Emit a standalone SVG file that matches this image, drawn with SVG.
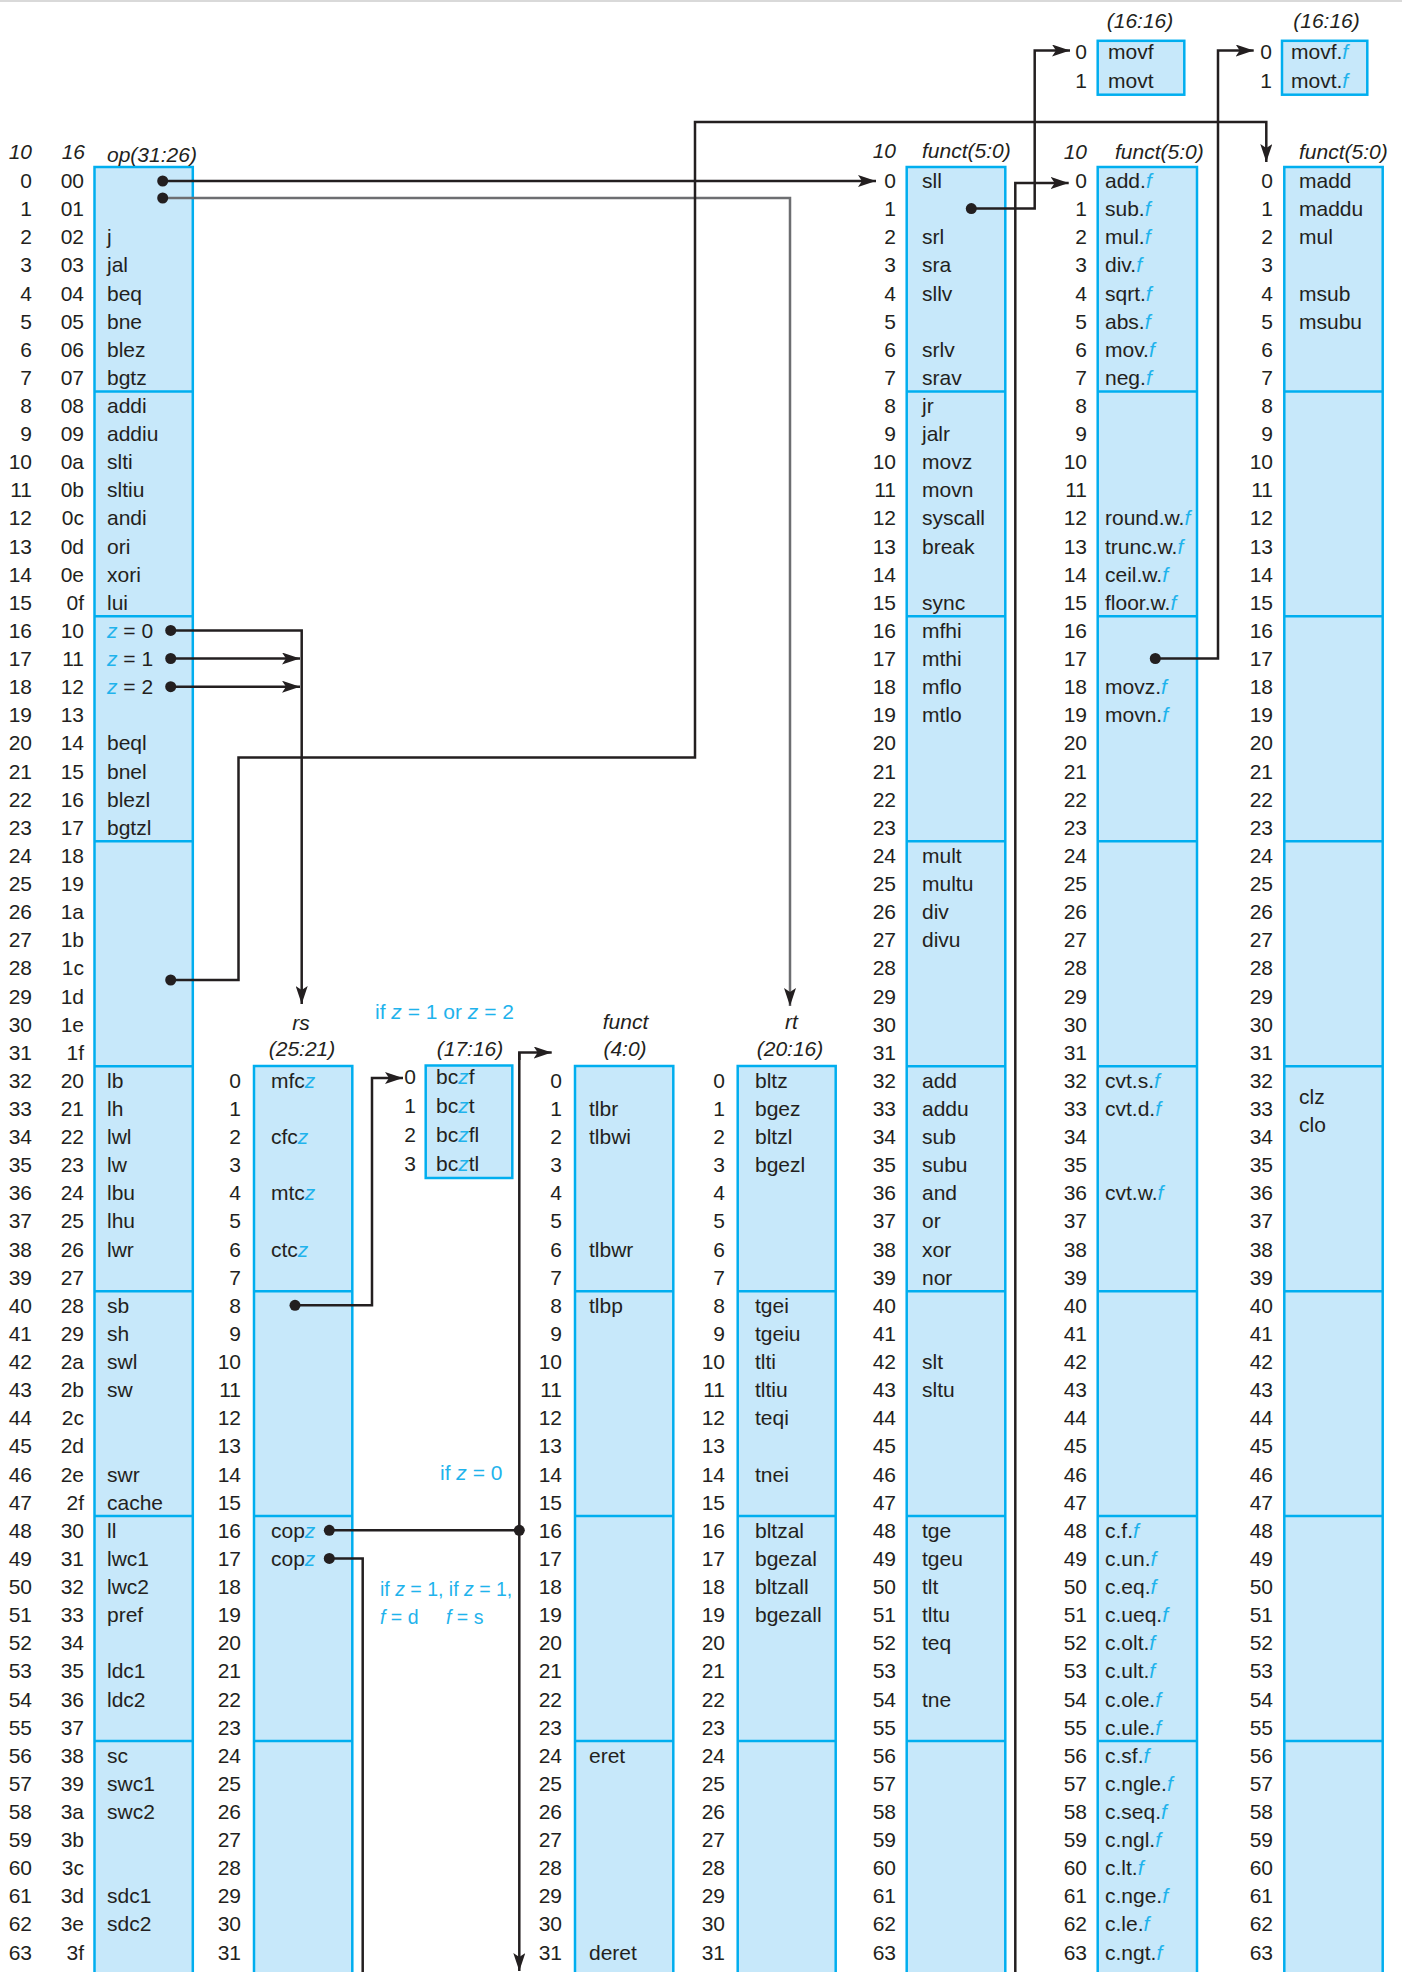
<svg xmlns="http://www.w3.org/2000/svg" width="1402" height="1972" viewBox="0 0 1402 1972">
<style>
text{font-family:"Liberation Sans",Arial,sans-serif;font-size:21px;fill:#231f20}
.n{text-anchor:end}
.h{font-style:italic}
.c{text-anchor:middle}
.b{fill:#1fb3ec}
.bi{fill:#1fb3ec;font-style:italic}
.sm{font-size:19.5px}
.box{fill:#c7e8fa;stroke:#00aeef;stroke-width:2.5}
.dv{stroke:#00aeef;stroke-width:2.5}
.ln{fill:none;stroke:#231f20;stroke-width:2.5}
.gl{fill:none;stroke:#6d6e71;stroke-width:2.5}
.dot{fill:#231f20}
</style>
<defs>
<marker id="ah" viewBox="0 0 18 12" refX="18" refY="6" markerWidth="18" markerHeight="12" markerUnits="userSpaceOnUse" orient="auto"><path d="M0,0 L18,6 L0,12 L4,6 Z" fill="#231f20"/></marker>
</defs>
<rect x="0" y="0" width="1402" height="2" fill="#d9d9d9"/>

<g id="op">
<rect class="box" x="94.5" y="167" width="98.3" height="1830"/>
<path class="dv" d="M94.5,391.4H192.8M94.5,616.3H192.8M94.5,841.3H192.8M94.5,1066.2H192.8M94.5,1291.2H192.8M94.5,1516.1H192.8M94.5,1741.1H192.8"/>
<text class="n h" x="32" y="159">10</text>
<text class="n h" x="85" y="159">16</text>
<text class="h" x="107" y="162">op(31:26)</text>
<text class="n"><tspan x="32" y="188">0</tspan><tspan x="32" y="216.1">1</tspan><tspan x="32" y="244.2">2</tspan><tspan x="32" y="272.4">3</tspan><tspan x="32" y="300.5">4</tspan><tspan x="32" y="328.6">5</tspan><tspan x="32" y="356.7">6</tspan><tspan x="32" y="384.8">7</tspan><tspan x="32" y="413">8</tspan><tspan x="32" y="441.1">9</tspan><tspan x="32" y="469.2">10</tspan><tspan x="32" y="497.3">11</tspan><tspan x="32" y="525.4">12</tspan><tspan x="32" y="553.6">13</tspan><tspan x="32" y="581.7">14</tspan><tspan x="32" y="609.8">15</tspan><tspan x="32" y="637.9">16</tspan><tspan x="32" y="666">17</tspan><tspan x="32" y="694.2">18</tspan><tspan x="32" y="722.3">19</tspan><tspan x="32" y="750.4">20</tspan><tspan x="32" y="778.5">21</tspan><tspan x="32" y="806.6">22</tspan><tspan x="32" y="834.8">23</tspan><tspan x="32" y="862.9">24</tspan><tspan x="32" y="891">25</tspan><tspan x="32" y="919.1">26</tspan><tspan x="32" y="947.2">27</tspan><tspan x="32" y="975.4">28</tspan><tspan x="32" y="1003.5">29</tspan><tspan x="32" y="1031.6">30</tspan><tspan x="32" y="1059.7">31</tspan><tspan x="32" y="1087.8">32</tspan><tspan x="32" y="1116">33</tspan><tspan x="32" y="1144.1">34</tspan><tspan x="32" y="1172.2">35</tspan><tspan x="32" y="1200.3">36</tspan><tspan x="32" y="1228.4">37</tspan><tspan x="32" y="1256.6">38</tspan><tspan x="32" y="1284.7">39</tspan><tspan x="32" y="1312.8">40</tspan><tspan x="32" y="1340.9">41</tspan><tspan x="32" y="1369">42</tspan><tspan x="32" y="1397.2">43</tspan><tspan x="32" y="1425.3">44</tspan><tspan x="32" y="1453.4">45</tspan><tspan x="32" y="1481.5">46</tspan><tspan x="32" y="1509.6">47</tspan><tspan x="32" y="1537.8">48</tspan><tspan x="32" y="1565.9">49</tspan><tspan x="32" y="1594">50</tspan><tspan x="32" y="1622.1">51</tspan><tspan x="32" y="1650.2">52</tspan><tspan x="32" y="1678.4">53</tspan><tspan x="32" y="1706.5">54</tspan><tspan x="32" y="1734.6">55</tspan><tspan x="32" y="1762.7">56</tspan><tspan x="32" y="1790.8">57</tspan><tspan x="32" y="1819">58</tspan><tspan x="32" y="1847.1">59</tspan><tspan x="32" y="1875.2">60</tspan><tspan x="32" y="1903.3">61</tspan><tspan x="32" y="1931.4">62</tspan><tspan x="32" y="1959.6">63</tspan></text>
<text class="n"><tspan x="84" y="188">00</tspan><tspan x="84" y="216.1">01</tspan><tspan x="84" y="244.2">02</tspan><tspan x="84" y="272.4">03</tspan><tspan x="84" y="300.5">04</tspan><tspan x="84" y="328.6">05</tspan><tspan x="84" y="356.7">06</tspan><tspan x="84" y="384.8">07</tspan><tspan x="84" y="413">08</tspan><tspan x="84" y="441.1">09</tspan><tspan x="84" y="469.2">0a</tspan><tspan x="84" y="497.3">0b</tspan><tspan x="84" y="525.4">0c</tspan><tspan x="84" y="553.6">0d</tspan><tspan x="84" y="581.7">0e</tspan><tspan x="84" y="609.8">0f</tspan><tspan x="84" y="637.9">10</tspan><tspan x="84" y="666">11</tspan><tspan x="84" y="694.2">12</tspan><tspan x="84" y="722.3">13</tspan><tspan x="84" y="750.4">14</tspan><tspan x="84" y="778.5">15</tspan><tspan x="84" y="806.6">16</tspan><tspan x="84" y="834.8">17</tspan><tspan x="84" y="862.9">18</tspan><tspan x="84" y="891">19</tspan><tspan x="84" y="919.1">1a</tspan><tspan x="84" y="947.2">1b</tspan><tspan x="84" y="975.4">1c</tspan><tspan x="84" y="1003.5">1d</tspan><tspan x="84" y="1031.6">1e</tspan><tspan x="84" y="1059.7">1f</tspan><tspan x="84" y="1087.8">20</tspan><tspan x="84" y="1116">21</tspan><tspan x="84" y="1144.1">22</tspan><tspan x="84" y="1172.2">23</tspan><tspan x="84" y="1200.3">24</tspan><tspan x="84" y="1228.4">25</tspan><tspan x="84" y="1256.6">26</tspan><tspan x="84" y="1284.7">27</tspan><tspan x="84" y="1312.8">28</tspan><tspan x="84" y="1340.9">29</tspan><tspan x="84" y="1369">2a</tspan><tspan x="84" y="1397.2">2b</tspan><tspan x="84" y="1425.3">2c</tspan><tspan x="84" y="1453.4">2d</tspan><tspan x="84" y="1481.5">2e</tspan><tspan x="84" y="1509.6">2f</tspan><tspan x="84" y="1537.8">30</tspan><tspan x="84" y="1565.9">31</tspan><tspan x="84" y="1594">32</tspan><tspan x="84" y="1622.1">33</tspan><tspan x="84" y="1650.2">34</tspan><tspan x="84" y="1678.4">35</tspan><tspan x="84" y="1706.5">36</tspan><tspan x="84" y="1734.6">37</tspan><tspan x="84" y="1762.7">38</tspan><tspan x="84" y="1790.8">39</tspan><tspan x="84" y="1819">3a</tspan><tspan x="84" y="1847.1">3b</tspan><tspan x="84" y="1875.2">3c</tspan><tspan x="84" y="1903.3">3d</tspan><tspan x="84" y="1931.4">3e</tspan><tspan x="84" y="1959.6">3f</tspan></text>
<text><tspan x="107" y="244.2">j</tspan><tspan x="107" y="272.4">jal</tspan><tspan x="107" y="300.5">beq</tspan><tspan x="107" y="328.6">bne</tspan><tspan x="107" y="356.7">blez</tspan><tspan x="107" y="384.8">bgtz</tspan><tspan x="107" y="413">addi</tspan><tspan x="107" y="441.1">addiu</tspan><tspan x="107" y="469.2">slti</tspan><tspan x="107" y="497.3">sltiu</tspan><tspan x="107" y="525.4">andi</tspan><tspan x="107" y="553.6">ori</tspan><tspan x="107" y="581.7">xori</tspan><tspan x="107" y="609.8">lui</tspan><tspan x="107" y="750.4">beql</tspan><tspan x="107" y="778.5">bnel</tspan><tspan x="107" y="806.6">blezl</tspan><tspan x="107" y="834.8">bgtzl</tspan><tspan x="107" y="1087.8">lb</tspan><tspan x="107" y="1116">lh</tspan><tspan x="107" y="1144.1">lwl</tspan><tspan x="107" y="1172.2">lw</tspan><tspan x="107" y="1200.3">lbu</tspan><tspan x="107" y="1228.4">lhu</tspan><tspan x="107" y="1256.6">lwr</tspan><tspan x="107" y="1312.8">sb</tspan><tspan x="107" y="1340.9">sh</tspan><tspan x="107" y="1369">swl</tspan><tspan x="107" y="1397.2">sw</tspan><tspan x="107" y="1481.5">swr</tspan><tspan x="107" y="1509.6">cache</tspan><tspan x="107" y="1537.8">ll</tspan><tspan x="107" y="1565.9">lwc1</tspan><tspan x="107" y="1594">lwc2</tspan><tspan x="107" y="1622.1">pref</tspan><tspan x="107" y="1678.4">ldc1</tspan><tspan x="107" y="1706.5">ldc2</tspan><tspan x="107" y="1762.7">sc</tspan><tspan x="107" y="1790.8">swc1</tspan><tspan x="107" y="1819">swc2</tspan><tspan x="107" y="1903.3">sdc1</tspan><tspan x="107" y="1931.4">sdc2</tspan></text>
<text x="107" y="637.9"><tspan class="bi">z</tspan> = 0</text>
<text x="107" y="666"><tspan class="bi">z</tspan> = 1</text>
<text x="107" y="694.2"><tspan class="bi">z</tspan> = 2</text>
</g>

<g id="rs">
<rect class="box" x="254" y="1066" width="98.3" height="930"/>
<path class="dv" d="M254,1291.2H352.3M254,1516.1H352.3M254,1741.1H352.3"/>
<text class="h c" x="301" y="1030">rs</text>
<text class="h c" x="302" y="1056">(25:21)</text>
<text class="n"><tspan x="241" y="1087.8">0</tspan><tspan x="241" y="1116">1</tspan><tspan x="241" y="1144.1">2</tspan><tspan x="241" y="1172.2">3</tspan><tspan x="241" y="1200.3">4</tspan><tspan x="241" y="1228.4">5</tspan><tspan x="241" y="1256.6">6</tspan><tspan x="241" y="1284.7">7</tspan><tspan x="241" y="1312.8">8</tspan><tspan x="241" y="1340.9">9</tspan><tspan x="241" y="1369">10</tspan><tspan x="241" y="1397.2">11</tspan><tspan x="241" y="1425.3">12</tspan><tspan x="241" y="1453.4">13</tspan><tspan x="241" y="1481.5">14</tspan><tspan x="241" y="1509.6">15</tspan><tspan x="241" y="1537.8">16</tspan><tspan x="241" y="1565.9">17</tspan><tspan x="241" y="1594">18</tspan><tspan x="241" y="1622.1">19</tspan><tspan x="241" y="1650.2">20</tspan><tspan x="241" y="1678.4">21</tspan><tspan x="241" y="1706.5">22</tspan><tspan x="241" y="1734.6">23</tspan><tspan x="241" y="1762.7">24</tspan><tspan x="241" y="1790.8">25</tspan><tspan x="241" y="1819">26</tspan><tspan x="241" y="1847.1">27</tspan><tspan x="241" y="1875.2">28</tspan><tspan x="241" y="1903.3">29</tspan><tspan x="241" y="1931.4">30</tspan><tspan x="241" y="1959.6">31</tspan></text>
<text x="271" y="1087.8">mfc<tspan class="bi">z</tspan></text>
<text x="271" y="1144.1">cfc<tspan class="bi">z</tspan></text>
<text x="271" y="1200.3">mtc<tspan class="bi">z</tspan></text>
<text x="271" y="1256.6">ctc<tspan class="bi">z</tspan></text>
<text x="271" y="1537.8">cop<tspan class="bi">z</tspan></text>
<text x="271" y="1565.9">cop<tspan class="bi">z</tspan></text>
</g>

<g id="bc">
<rect class="box" x="425.7" y="1065.5" width="86.6" height="112.5"/>
<text class="h c" x="470" y="1056">(17:16)</text>
<text class="n"><tspan x="416" y="1084">0</tspan><tspan x="416" y="1113">1</tspan><tspan x="416" y="1142">2</tspan><tspan x="416" y="1171">3</tspan></text>
<text x="436" y="1084">bc<tspan class="bi">z</tspan>f</text>
<text x="436" y="1113">bc<tspan class="bi">z</tspan>t</text>
<text x="436" y="1142">bc<tspan class="bi">z</tspan>fl</text>
<text x="436" y="1171">bc<tspan class="bi">z</tspan>tl</text>
</g>

<g id="tlb">
<rect class="box" x="575" y="1066" width="98.3" height="930"/>
<path class="dv" d="M575,1291.2H673.3M575,1516.1H673.3M575,1741.1H673.3"/>
<text class="h c" x="625.5" y="1029">funct</text>
<text class="h c" x="625" y="1056">(4:0)</text>
<text class="n"><tspan x="562" y="1087.8">0</tspan><tspan x="562" y="1116">1</tspan><tspan x="562" y="1144.1">2</tspan><tspan x="562" y="1172.2">3</tspan><tspan x="562" y="1200.3">4</tspan><tspan x="562" y="1228.4">5</tspan><tspan x="562" y="1256.6">6</tspan><tspan x="562" y="1284.7">7</tspan><tspan x="562" y="1312.8">8</tspan><tspan x="562" y="1340.9">9</tspan><tspan x="562" y="1369">10</tspan><tspan x="562" y="1397.2">11</tspan><tspan x="562" y="1425.3">12</tspan><tspan x="562" y="1453.4">13</tspan><tspan x="562" y="1481.5">14</tspan><tspan x="562" y="1509.6">15</tspan><tspan x="562" y="1537.8">16</tspan><tspan x="562" y="1565.9">17</tspan><tspan x="562" y="1594">18</tspan><tspan x="562" y="1622.1">19</tspan><tspan x="562" y="1650.2">20</tspan><tspan x="562" y="1678.4">21</tspan><tspan x="562" y="1706.5">22</tspan><tspan x="562" y="1734.6">23</tspan><tspan x="562" y="1762.7">24</tspan><tspan x="562" y="1790.8">25</tspan><tspan x="562" y="1819">26</tspan><tspan x="562" y="1847.1">27</tspan><tspan x="562" y="1875.2">28</tspan><tspan x="562" y="1903.3">29</tspan><tspan x="562" y="1931.4">30</tspan><tspan x="562" y="1959.6">31</tspan></text>
<text><tspan x="589" y="1116">tlbr</tspan><tspan x="589" y="1144.1">tlbwi</tspan><tspan x="589" y="1256.6">tlbwr</tspan><tspan x="589" y="1312.8">tlbp</tspan><tspan x="589" y="1762.7">eret</tspan><tspan x="589" y="1959.6">deret</tspan></text>
</g>

<g id="rt">
<rect class="box" x="737.7" y="1066" width="98" height="930"/>
<path class="dv" d="M737.7,1291.2H835.7M737.7,1516.1H835.7M737.7,1741.1H835.7"/>
<text class="h c" x="791.5" y="1029">rt</text>
<text class="h c" x="790" y="1056">(20:16)</text>
<text class="n"><tspan x="725" y="1087.8">0</tspan><tspan x="725" y="1116">1</tspan><tspan x="725" y="1144.1">2</tspan><tspan x="725" y="1172.2">3</tspan><tspan x="725" y="1200.3">4</tspan><tspan x="725" y="1228.4">5</tspan><tspan x="725" y="1256.6">6</tspan><tspan x="725" y="1284.7">7</tspan><tspan x="725" y="1312.8">8</tspan><tspan x="725" y="1340.9">9</tspan><tspan x="725" y="1369">10</tspan><tspan x="725" y="1397.2">11</tspan><tspan x="725" y="1425.3">12</tspan><tspan x="725" y="1453.4">13</tspan><tspan x="725" y="1481.5">14</tspan><tspan x="725" y="1509.6">15</tspan><tspan x="725" y="1537.8">16</tspan><tspan x="725" y="1565.9">17</tspan><tspan x="725" y="1594">18</tspan><tspan x="725" y="1622.1">19</tspan><tspan x="725" y="1650.2">20</tspan><tspan x="725" y="1678.4">21</tspan><tspan x="725" y="1706.5">22</tspan><tspan x="725" y="1734.6">23</tspan><tspan x="725" y="1762.7">24</tspan><tspan x="725" y="1790.8">25</tspan><tspan x="725" y="1819">26</tspan><tspan x="725" y="1847.1">27</tspan><tspan x="725" y="1875.2">28</tspan><tspan x="725" y="1903.3">29</tspan><tspan x="725" y="1931.4">30</tspan><tspan x="725" y="1959.6">31</tspan></text>
<text><tspan x="755" y="1087.8">bltz</tspan><tspan x="755" y="1116">bgez</tspan><tspan x="755" y="1144.1">bltzl</tspan><tspan x="755" y="1172.2">bgezl</tspan><tspan x="755" y="1312.8">tgei</tspan><tspan x="755" y="1340.9">tgeiu</tspan><tspan x="755" y="1369">tlti</tspan><tspan x="755" y="1397.2">tltiu</tspan><tspan x="755" y="1425.3">teqi</tspan><tspan x="755" y="1481.5">tnei</tspan><tspan x="755" y="1537.8">bltzal</tspan><tspan x="755" y="1565.9">bgezal</tspan><tspan x="755" y="1594">bltzall</tspan><tspan x="755" y="1622.1">bgezall</tspan></text>
</g>

<g id="funct">
<rect class="box" x="906.7" y="167" width="98.6" height="1830"/>
<path class="dv" d="M906.7,391.4H1005.3M906.7,616.3H1005.3M906.7,841.3H1005.3M906.7,1066.2H1005.3M906.7,1291.2H1005.3M906.7,1516.1H1005.3M906.7,1741.1H1005.3"/>
<text class="n h" x="896" y="158">10</text>
<text class="h" x="922" y="158">funct(5:0)</text>
<text class="n"><tspan x="896" y="188">0</tspan><tspan x="896" y="216.1">1</tspan><tspan x="896" y="244.2">2</tspan><tspan x="896" y="272.4">3</tspan><tspan x="896" y="300.5">4</tspan><tspan x="896" y="328.6">5</tspan><tspan x="896" y="356.7">6</tspan><tspan x="896" y="384.8">7</tspan><tspan x="896" y="413">8</tspan><tspan x="896" y="441.1">9</tspan><tspan x="896" y="469.2">10</tspan><tspan x="896" y="497.3">11</tspan><tspan x="896" y="525.4">12</tspan><tspan x="896" y="553.6">13</tspan><tspan x="896" y="581.7">14</tspan><tspan x="896" y="609.8">15</tspan><tspan x="896" y="637.9">16</tspan><tspan x="896" y="666">17</tspan><tspan x="896" y="694.2">18</tspan><tspan x="896" y="722.3">19</tspan><tspan x="896" y="750.4">20</tspan><tspan x="896" y="778.5">21</tspan><tspan x="896" y="806.6">22</tspan><tspan x="896" y="834.8">23</tspan><tspan x="896" y="862.9">24</tspan><tspan x="896" y="891">25</tspan><tspan x="896" y="919.1">26</tspan><tspan x="896" y="947.2">27</tspan><tspan x="896" y="975.4">28</tspan><tspan x="896" y="1003.5">29</tspan><tspan x="896" y="1031.6">30</tspan><tspan x="896" y="1059.7">31</tspan><tspan x="896" y="1087.8">32</tspan><tspan x="896" y="1116">33</tspan><tspan x="896" y="1144.1">34</tspan><tspan x="896" y="1172.2">35</tspan><tspan x="896" y="1200.3">36</tspan><tspan x="896" y="1228.4">37</tspan><tspan x="896" y="1256.6">38</tspan><tspan x="896" y="1284.7">39</tspan><tspan x="896" y="1312.8">40</tspan><tspan x="896" y="1340.9">41</tspan><tspan x="896" y="1369">42</tspan><tspan x="896" y="1397.2">43</tspan><tspan x="896" y="1425.3">44</tspan><tspan x="896" y="1453.4">45</tspan><tspan x="896" y="1481.5">46</tspan><tspan x="896" y="1509.6">47</tspan><tspan x="896" y="1537.8">48</tspan><tspan x="896" y="1565.9">49</tspan><tspan x="896" y="1594">50</tspan><tspan x="896" y="1622.1">51</tspan><tspan x="896" y="1650.2">52</tspan><tspan x="896" y="1678.4">53</tspan><tspan x="896" y="1706.5">54</tspan><tspan x="896" y="1734.6">55</tspan><tspan x="896" y="1762.7">56</tspan><tspan x="896" y="1790.8">57</tspan><tspan x="896" y="1819">58</tspan><tspan x="896" y="1847.1">59</tspan><tspan x="896" y="1875.2">60</tspan><tspan x="896" y="1903.3">61</tspan><tspan x="896" y="1931.4">62</tspan><tspan x="896" y="1959.6">63</tspan></text>
<text><tspan x="922" y="188">sll</tspan><tspan x="922" y="244.2">srl</tspan><tspan x="922" y="272.4">sra</tspan><tspan x="922" y="300.5">sllv</tspan><tspan x="922" y="356.7">srlv</tspan><tspan x="922" y="384.8">srav</tspan><tspan x="922" y="413">jr</tspan><tspan x="922" y="441.1">jalr</tspan><tspan x="922" y="469.2">movz</tspan><tspan x="922" y="497.3">movn</tspan><tspan x="922" y="525.4">syscall</tspan><tspan x="922" y="553.6">break</tspan><tspan x="922" y="609.8">sync</tspan><tspan x="922" y="637.9">mfhi</tspan><tspan x="922" y="666">mthi</tspan><tspan x="922" y="694.2">mflo</tspan><tspan x="922" y="722.3">mtlo</tspan><tspan x="922" y="862.9">mult</tspan><tspan x="922" y="891">multu</tspan><tspan x="922" y="919.1">div</tspan><tspan x="922" y="947.2">divu</tspan><tspan x="922" y="1087.8">add</tspan><tspan x="922" y="1116">addu</tspan><tspan x="922" y="1144.1">sub</tspan><tspan x="922" y="1172.2">subu</tspan><tspan x="922" y="1200.3">and</tspan><tspan x="922" y="1228.4">or</tspan><tspan x="922" y="1256.6">xor</tspan><tspan x="922" y="1284.7">nor</tspan><tspan x="922" y="1369">slt</tspan><tspan x="922" y="1397.2">sltu</tspan><tspan x="922" y="1537.8">tge</tspan><tspan x="922" y="1565.9">tgeu</tspan><tspan x="922" y="1594">tlt</tspan><tspan x="922" y="1622.1">tltu</tspan><tspan x="922" y="1650.2">teq</tspan><tspan x="922" y="1706.5">tne</tspan></text>
</g>

<g id="fpfunct">
<rect class="box" x="1097.7" y="167" width="99.3" height="1830"/>
<path class="dv" d="M1097.7,391.4H1197M1097.7,616.3H1197M1097.7,841.3H1197M1097.7,1066.2H1197M1097.7,1291.2H1197M1097.7,1516.1H1197M1097.7,1741.1H1197"/>
<text class="n h" x="1087" y="159">10</text>
<text class="h" x="1115" y="159">funct(5:0)</text>
<text class="n"><tspan x="1087" y="188">0</tspan><tspan x="1087" y="216.1">1</tspan><tspan x="1087" y="244.2">2</tspan><tspan x="1087" y="272.4">3</tspan><tspan x="1087" y="300.5">4</tspan><tspan x="1087" y="328.6">5</tspan><tspan x="1087" y="356.7">6</tspan><tspan x="1087" y="384.8">7</tspan><tspan x="1087" y="413">8</tspan><tspan x="1087" y="441.1">9</tspan><tspan x="1087" y="469.2">10</tspan><tspan x="1087" y="497.3">11</tspan><tspan x="1087" y="525.4">12</tspan><tspan x="1087" y="553.6">13</tspan><tspan x="1087" y="581.7">14</tspan><tspan x="1087" y="609.8">15</tspan><tspan x="1087" y="637.9">16</tspan><tspan x="1087" y="666">17</tspan><tspan x="1087" y="694.2">18</tspan><tspan x="1087" y="722.3">19</tspan><tspan x="1087" y="750.4">20</tspan><tspan x="1087" y="778.5">21</tspan><tspan x="1087" y="806.6">22</tspan><tspan x="1087" y="834.8">23</tspan><tspan x="1087" y="862.9">24</tspan><tspan x="1087" y="891">25</tspan><tspan x="1087" y="919.1">26</tspan><tspan x="1087" y="947.2">27</tspan><tspan x="1087" y="975.4">28</tspan><tspan x="1087" y="1003.5">29</tspan><tspan x="1087" y="1031.6">30</tspan><tspan x="1087" y="1059.7">31</tspan><tspan x="1087" y="1087.8">32</tspan><tspan x="1087" y="1116">33</tspan><tspan x="1087" y="1144.1">34</tspan><tspan x="1087" y="1172.2">35</tspan><tspan x="1087" y="1200.3">36</tspan><tspan x="1087" y="1228.4">37</tspan><tspan x="1087" y="1256.6">38</tspan><tspan x="1087" y="1284.7">39</tspan><tspan x="1087" y="1312.8">40</tspan><tspan x="1087" y="1340.9">41</tspan><tspan x="1087" y="1369">42</tspan><tspan x="1087" y="1397.2">43</tspan><tspan x="1087" y="1425.3">44</tspan><tspan x="1087" y="1453.4">45</tspan><tspan x="1087" y="1481.5">46</tspan><tspan x="1087" y="1509.6">47</tspan><tspan x="1087" y="1537.8">48</tspan><tspan x="1087" y="1565.9">49</tspan><tspan x="1087" y="1594">50</tspan><tspan x="1087" y="1622.1">51</tspan><tspan x="1087" y="1650.2">52</tspan><tspan x="1087" y="1678.4">53</tspan><tspan x="1087" y="1706.5">54</tspan><tspan x="1087" y="1734.6">55</tspan><tspan x="1087" y="1762.7">56</tspan><tspan x="1087" y="1790.8">57</tspan><tspan x="1087" y="1819">58</tspan><tspan x="1087" y="1847.1">59</tspan><tspan x="1087" y="1875.2">60</tspan><tspan x="1087" y="1903.3">61</tspan><tspan x="1087" y="1931.4">62</tspan><tspan x="1087" y="1959.6">63</tspan></text>
<text x="1105" y="188">add.<tspan class="bi">f</tspan></text>
<text x="1105" y="216.1">sub.<tspan class="bi">f</tspan></text>
<text x="1105" y="244.2">mul.<tspan class="bi">f</tspan></text>
<text x="1105" y="272.4">div.<tspan class="bi">f</tspan></text>
<text x="1105" y="300.5">sqrt.<tspan class="bi">f</tspan></text>
<text x="1105" y="328.6">abs.<tspan class="bi">f</tspan></text>
<text x="1105" y="356.7">mov.<tspan class="bi">f</tspan></text>
<text x="1105" y="384.8">neg.<tspan class="bi">f</tspan></text>
<text x="1105" y="525.4">round.w.<tspan class="bi">f</tspan></text>
<text x="1105" y="553.6">trunc.w.<tspan class="bi">f</tspan></text>
<text x="1105" y="581.7">ceil.w.<tspan class="bi">f</tspan></text>
<text x="1105" y="609.8">floor.w.<tspan class="bi">f</tspan></text>
<text x="1105" y="694.2">movz.<tspan class="bi">f</tspan></text>
<text x="1105" y="722.3">movn.<tspan class="bi">f</tspan></text>
<text x="1105" y="1087.8">cvt.s.<tspan class="bi">f</tspan></text>
<text x="1105" y="1116">cvt.d.<tspan class="bi">f</tspan></text>
<text x="1105" y="1200.3">cvt.w.<tspan class="bi">f</tspan></text>
<text x="1105" y="1537.8">c.f.<tspan class="bi">f</tspan></text>
<text x="1105" y="1565.9">c.un.<tspan class="bi">f</tspan></text>
<text x="1105" y="1594">c.eq.<tspan class="bi">f</tspan></text>
<text x="1105" y="1622.1">c.ueq.<tspan class="bi">f</tspan></text>
<text x="1105" y="1650.2">c.olt.<tspan class="bi">f</tspan></text>
<text x="1105" y="1678.4">c.ult.<tspan class="bi">f</tspan></text>
<text x="1105" y="1706.5">c.ole.<tspan class="bi">f</tspan></text>
<text x="1105" y="1734.6">c.ule.<tspan class="bi">f</tspan></text>
<text x="1105" y="1762.7">c.sf.<tspan class="bi">f</tspan></text>
<text x="1105" y="1790.8">c.ngle.<tspan class="bi">f</tspan></text>
<text x="1105" y="1819">c.seq.<tspan class="bi">f</tspan></text>
<text x="1105" y="1847.1">c.ngl.<tspan class="bi">f</tspan></text>
<text x="1105" y="1875.2">c.lt.<tspan class="bi">f</tspan></text>
<text x="1105" y="1903.3">c.nge.<tspan class="bi">f</tspan></text>
<text x="1105" y="1931.4">c.le.<tspan class="bi">f</tspan></text>
<text x="1105" y="1959.6">c.ngt.<tspan class="bi">f</tspan></text>
</g>

<g id="special2">
<rect class="box" x="1284.3" y="167" width="98.4" height="1830"/>
<path class="dv" d="M1284.3,391.4H1382.7M1284.3,616.3H1382.7M1284.3,841.3H1382.7M1284.3,1066.2H1382.7M1284.3,1291.2H1382.7M1284.3,1516.1H1382.7M1284.3,1741.1H1382.7"/>
<text class="h" x="1299" y="159">funct(5:0)</text>
<text class="n"><tspan x="1273" y="188">0</tspan><tspan x="1273" y="216.1">1</tspan><tspan x="1273" y="244.2">2</tspan><tspan x="1273" y="272.4">3</tspan><tspan x="1273" y="300.5">4</tspan><tspan x="1273" y="328.6">5</tspan><tspan x="1273" y="356.7">6</tspan><tspan x="1273" y="384.8">7</tspan><tspan x="1273" y="413">8</tspan><tspan x="1273" y="441.1">9</tspan><tspan x="1273" y="469.2">10</tspan><tspan x="1273" y="497.3">11</tspan><tspan x="1273" y="525.4">12</tspan><tspan x="1273" y="553.6">13</tspan><tspan x="1273" y="581.7">14</tspan><tspan x="1273" y="609.8">15</tspan><tspan x="1273" y="637.9">16</tspan><tspan x="1273" y="666">17</tspan><tspan x="1273" y="694.2">18</tspan><tspan x="1273" y="722.3">19</tspan><tspan x="1273" y="750.4">20</tspan><tspan x="1273" y="778.5">21</tspan><tspan x="1273" y="806.6">22</tspan><tspan x="1273" y="834.8">23</tspan><tspan x="1273" y="862.9">24</tspan><tspan x="1273" y="891">25</tspan><tspan x="1273" y="919.1">26</tspan><tspan x="1273" y="947.2">27</tspan><tspan x="1273" y="975.4">28</tspan><tspan x="1273" y="1003.5">29</tspan><tspan x="1273" y="1031.6">30</tspan><tspan x="1273" y="1059.7">31</tspan><tspan x="1273" y="1087.8">32</tspan><tspan x="1273" y="1116">33</tspan><tspan x="1273" y="1144.1">34</tspan><tspan x="1273" y="1172.2">35</tspan><tspan x="1273" y="1200.3">36</tspan><tspan x="1273" y="1228.4">37</tspan><tspan x="1273" y="1256.6">38</tspan><tspan x="1273" y="1284.7">39</tspan><tspan x="1273" y="1312.8">40</tspan><tspan x="1273" y="1340.9">41</tspan><tspan x="1273" y="1369">42</tspan><tspan x="1273" y="1397.2">43</tspan><tspan x="1273" y="1425.3">44</tspan><tspan x="1273" y="1453.4">45</tspan><tspan x="1273" y="1481.5">46</tspan><tspan x="1273" y="1509.6">47</tspan><tspan x="1273" y="1537.8">48</tspan><tspan x="1273" y="1565.9">49</tspan><tspan x="1273" y="1594">50</tspan><tspan x="1273" y="1622.1">51</tspan><tspan x="1273" y="1650.2">52</tspan><tspan x="1273" y="1678.4">53</tspan><tspan x="1273" y="1706.5">54</tspan><tspan x="1273" y="1734.6">55</tspan><tspan x="1273" y="1762.7">56</tspan><tspan x="1273" y="1790.8">57</tspan><tspan x="1273" y="1819">58</tspan><tspan x="1273" y="1847.1">59</tspan><tspan x="1273" y="1875.2">60</tspan><tspan x="1273" y="1903.3">61</tspan><tspan x="1273" y="1931.4">62</tspan><tspan x="1273" y="1959.6">63</tspan></text>
<text><tspan x="1299" y="188">madd</tspan><tspan x="1299" y="216.1">maddu</tspan><tspan x="1299" y="244.2">mul</tspan><tspan x="1299" y="300.5">msub</tspan><tspan x="1299" y="328.6">msubu</tspan><tspan x="1299" y="1104">clz</tspan><tspan x="1299" y="1131.5">clo</tspan></text>
</g>

<g id="movf">
<rect class="box" x="1097.7" y="40.8" width="86.6" height="53.9"/>
<text class="h c" x="1140" y="28">(16:16)</text>
<text class="n"><tspan x="1087" y="58.5">0</tspan><tspan x="1087" y="87.5">1</tspan></text>
<text><tspan x="1108" y="58.5">movf</tspan><tspan x="1108" y="87.5">movt</tspan></text>
</g>

<g id="movff">
<rect class="box" x="1282" y="40.8" width="85.3" height="53.9"/>
<text class="h c" x="1326.5" y="28">(16:16)</text>
<text class="n"><tspan x="1272" y="58.5">0</tspan><tspan x="1272" y="87.5">1</tspan></text>
<text x="1291" y="58.5">movf.<tspan class="bi">f</tspan></text>
<text x="1291" y="87.5">movt.<tspan class="bi">f</tspan></text>
</g>

<g id="labels">
<text class="b" x="375" y="1019">if <tspan class="bi">z</tspan> = 1 or <tspan class="bi">z</tspan> = 2</text>
<text class="b" x="440" y="1480">if <tspan class="bi">z</tspan> = 0</text>
<text class="b sm" x="380" y="1596">if <tspan class="bi">z</tspan> = 1, if <tspan class="bi">z</tspan> = 1,</text>
<text class="b sm" x="380" y="1624"><tspan class="bi">f</tspan> = d</text>
<text class="b sm" x="446" y="1624"><tspan class="bi">f</tspan> = s</text>
</g>

<g id="connectors">
<path class="ln" d="M162.7,181H876" marker-end="url(#ah)"/>
<path class="gl" d="M162.7,198H790V1006" marker-end="url(#ah)"/>
<path class="ln" d="M170.7,980H238.5V757.5H695V122H1266.3V162" marker-end="url(#ah)"/>
<path class="ln" d="M170.7,630.4H301.7V1004" marker-end="url(#ah)"/>
<path class="ln" d="M170.7,658.5H300" marker-end="url(#ah)"/>
<path class="ln" d="M170.7,686.7H300" marker-end="url(#ah)"/>
<path class="ln" d="M295,1305.3H372V1078H403" marker-end="url(#ah)"/>
<path class="ln" d="M329.3,1530.3H519.3"/>
<path class="ln" d="M519.3,1052.5V1971" marker-end="url(#ah)"/>
<path class="ln" d="M519.3,1060V1052.5H551.7" marker-end="url(#ah)"/>
<path class="ln" d="M329.3,1558.4H362.7V1975"/>
<path class="ln" d="M971.3,208.6H1034.7V50.5H1070" marker-end="url(#ah)"/>
<path class="ln" d="M1015.3,1975V183H1068.7" marker-end="url(#ah)"/>
<path class="ln" d="M1155.3,658.5H1218V50.5H1253.7" marker-end="url(#ah)"/>
<circle class="dot" cx="162.7" cy="181" r="5.5"/>
<circle class="dot" cx="162.7" cy="198" r="5.5"/>
<circle class="dot" cx="170.7" cy="630.4" r="5.5"/>
<circle class="dot" cx="170.7" cy="658.5" r="5.5"/>
<circle class="dot" cx="170.7" cy="686.7" r="5.5"/>
<circle class="dot" cx="170.7" cy="980" r="5.5"/>
<circle class="dot" cx="295" cy="1305.3" r="5.5"/>
<circle class="dot" cx="329.3" cy="1530.3" r="5.5"/>
<circle class="dot" cx="329.3" cy="1558.4" r="5.5"/>
<circle class="dot" cx="519.3" cy="1530.3" r="5.5"/>
<circle class="dot" cx="971.3" cy="208.6" r="5.5"/>
<circle class="dot" cx="1155.3" cy="658.5" r="5.5"/>
</g>
</svg>
